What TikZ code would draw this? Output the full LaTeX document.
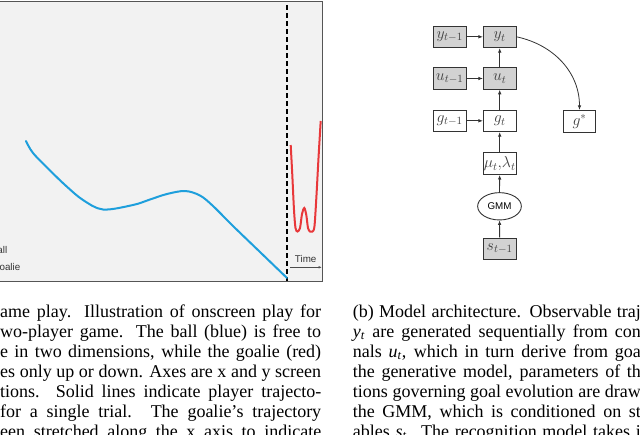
\documentclass[tikz,border=0pt]{standalone}
\usepackage{fix-cm}
\usepackage{fontspec}
\newfontfamily\capfont[Ligatures=TeX]{Liberation Serif}
\newfontfamily\sansf{Liberation Sans}
\usetikzlibrary{arrows.meta,shapes.geometric}
\definecolor{panelbg}{HTML}{F2F2F2}
\definecolor{panelbd}{HTML}{555555}
\definecolor{ballblue}{HTML}{1E9FDC}
\definecolor{goalred}{HTML}{E8383A}
\definecolor{boxgray}{HTML}{D2D2D2}
\definecolor{boxbd}{HTML}{333333}
\definecolor{nodetext}{HTML}{404040}
\begin{document}
\begin{tikzpicture}[x=1pt,y=-1pt,
  varbox/.style={draw=boxbd, line width=0.9pt, minimum width=32.7pt, minimum height=21.7pt, inner sep=0pt, text=nodetext, font=\fontsize{15.8}{18}\selectfont},
  obs/.style={varbox, fill=boxgray},
  lat/.style={varbox, fill=white},
  link/.style={draw=boxbd, line width=0.8pt, -{Latex[length=4.5pt,width=3.6pt]}},
  capline/.style={inner sep=0pt, anchor=base west, font=\capfont\fontsize{18}{20}\selectfont},
  sanslbl/.style={inner sep=0pt, font=\sansf\fontsize{9.8}{11}\selectfont, text=black!80},
]
\useasboundingbox (0,0) rectangle (640,434);
% left panel
\fill[panelbg] (0,1) rectangle (322.7,281.5);
\draw[panelbd, line width=1pt] (0,1) -- (322.7,1) -- (322.7,281.5) -- (0,281.5);
\draw[black, line width=2.4pt, dash pattern=on 5pt off 3pt] (286.7,5) -- (286.7,281);
\draw[ballblue, line width=2pt, line cap=round] plot[smooth, tension=0.55] coordinates {(26,141) (33,153) (50,170.5) (66.7,186.5) (83,200) (103,209.5) (133,205) (150,199.5) (167,194) (185,191) (200,195.5) (213,206) (233,226) (260,252) (287,278)};
\draw[goalred, line width=2pt] plot[smooth, tension=0.5] coordinates {(290.7,145) (292.3,175) (294,210) (295.5,228) (297.5,231.5) (300,228) (302,214) (304.3,208) (306.3,215) (308,228) (310,231.5) (312.5,231.5) (314.5,226) (316.5,195) (318.5,158) (320.7,121)};
\node[sanslbl] (timelbl) at (305.7,258.5) {Time};
\coordinate (t0) at (290,267.3);
\coordinate (t1) at (321.7,267.3);
\draw[black!70, line width=0.5pt, -{Latex[length=3pt,width=2.5pt]}] (t0) -- (t1);
\node[sanslbl, anchor=base east] (lgball) at (7.5,253.5) {all};
\node[sanslbl, anchor=base east] (lggoal) at (20.5,270) {oalie};
% model diagram
\node[obs] (ytm) at (449.7,36.8) {$y_{t-1}$};
\node[obs] (yt) at (499.7,36.8) {$y_t$};
\node[obs] (utm) at (449.7,78.5) {$u_{t-1}$};
\node[obs] (ut) at (499.7,78.5) {$u_t$};
\node[lat] (gtm) at (449.7,120.8) {$g_{t-1}$};
\node[lat] (gt) at (499.7,120.8) {$g_t$};
\node[lat] (gs) at (579.5,121.2) {$g^*$};
\node[lat] (ml) at (499.7,163.7) {$\mu_t,\!\lambda_t$};
\node[ellipse, draw=boxbd, line width=0.9pt, fill=white, minimum width=43.7pt, minimum height=27.3pt, inner sep=0pt, font=\sansf\fontsize{9.8}{11}\selectfont] (gmm) at (499.5,206.3) {GMM};
\node[obs] (st) at (499.7,248.8) {$s_{t-1}$};
\draw[link] (ytm) -- (yt);
\draw[link] (utm) -- (ut);
\draw[link] (gtm) -- (gt);
\draw[link] (ut) -- (yt);
\draw[link] (gt) -- (ut);
\draw[link] (ml) -- (gt);
\draw[link] (gmm) -- (ml);
\draw[link] (st) -- (gmm);
\draw[link] (yt.east) to[out=-12,in=90] (gs.north);
% captions
\begin{scope}
\clip (0,0) rectangle (640,434);
\node[capline] (la1) at (0,317) {\makebox[321pt][s]{ame play. Illustration of onscreen play for}};
\node[capline] (la2) at (0,337) {\makebox[321pt][s]{wo-player game. The ball (blue) is free to}};
\node[capline] (la3) at (0,357) {\makebox[321pt][s]{e in two dimensions, while the goalie (red)}};
\node[capline] (la4) at (0,377) {\makebox[321pt][s]{es only up or down. Axes are x and y screen}};
\node[capline] (la5) at (0,397) {\makebox[321pt][s]{tions. Solid lines indicate player trajecto-}};
\node[capline] (la6) at (0,417) {\makebox[321pt][s]{for a single trial. The goalie’s trajectory}};
\node[capline] (la7) at (0,437) {\makebox[321pt][s]{een stretched along the x axis to indicate}};
\node[capline] (rb1) at (352.7,317) {\makebox[288pt][s]{(b) Model architecture. Observable traj}};
\node[capline] (rb2) at (352.7,337) {\makebox[288pt][s]{\textit{y}\textsubscript{\textit{t}} are generated sequentially from con}};
\node[capline] (rb3) at (352.7,357) {\makebox[288pt][s]{nals \textit{u}\textsubscript{\textit{t}}, which in turn derive from goa}};
\node[capline] (rb4) at (352.7,377) {\makebox[288pt][s]{the generative model, parameters of th}};
\node[capline] (rb5) at (352.7,397) {\makebox[288pt][s]{tions governing goal evolution are draw}};
\node[capline] (rb6) at (352.7,417) {\makebox[288pt][s]{the GMM, which is conditioned on st}};
\node[capline] (rb7) at (352.7,437) {\makebox[288pt][s]{ables \textit{s}\textsubscript{\textit{t}}. The recognition model takes i}};
\end{scope}
\end{tikzpicture}
\end{document}
